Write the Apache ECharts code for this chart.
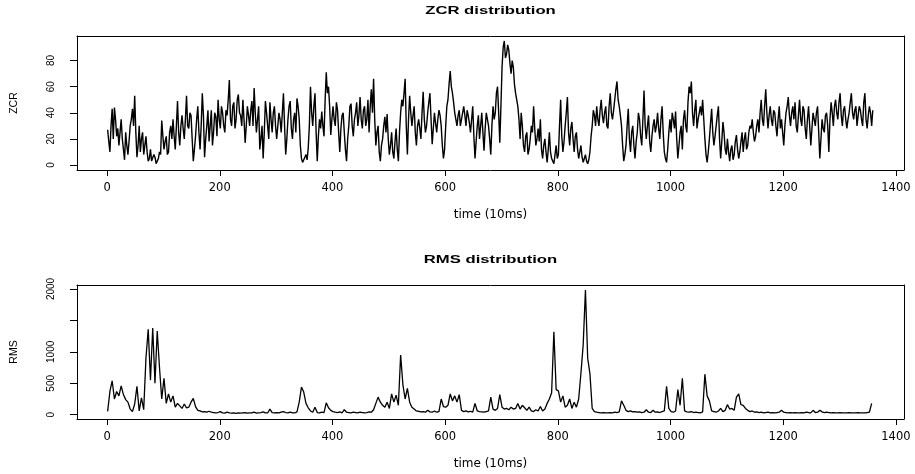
<!DOCTYPE html>
<html>
<head>
<meta charset="utf-8">
<script src="https://cdn.jsdelivr.net/npm/echarts@6/dist/echarts.min.js"></script>
<style>
  html, body { margin: 0; padding: 0; background: #fff; }
  #chart { width: 915px; height: 474px; }
</style>
</head>
<body>
<div id="chart"></div>
<script>
// Frame index of the first sample and spacing between samples (units of 10 ms)
const zcrStart = 1;
const zcrStep = 2;
const rmsStart = 1;
const rmsStep = 4;

// Zero-crossing rate per sampled frame
const zcrValues = [
  27,18,10,30,43,20,44,35,22,28,15,25,35,20,12,4,25,15,8,18,30,35,43,30,53,25,6,15,30,10,20,25,8,15,22,10,3,5,12,3,2,8,6,1,3,5,10,8,34,22,
  12,18,22,8,10,25,30,20,35,22,12,30,49,25,15,30,38,28,20,35,53,30,28,40,38,20,3,12,22,35,45,25,12,30,55,38,6,20,30,42,18,30,42,15,25,40,37,22,50,35,
  28,45,40,30,25,42,38,50,65,35,30,45,48,28,35,50,54,40,38,30,50,35,17,30,45,38,30,42,49,30,59,40,25,35,45,12,20,30,5,25,49,40,30,20,48,35,25,40,45,30,
  20,30,40,35,25,40,55,30,8,20,35,45,49,28,20,35,40,25,51,45,35,15,5,2,3,6,8,4,13,30,60,40,30,45,55,25,3,22,35,28,41,30,22,50,71,55,60,45,23,35,
  45,35,30,48,42,25,10,28,38,40,25,12,3,20,30,45,47,30,22,35,40,48,30,38,52,35,28,42,45,30,35,50,25,45,58,40,66,35,15,25,30,10,3,15,20,30,37,25,39,20,
  8,15,25,10,5,18,28,12,3,25,40,50,45,55,66,30,8,35,53,40,30,38,45,25,15,30,35,28,20,40,56,35,25,30,40,48,55,35,16,28,40,32,25,35,42,38,30,15,5,12,
  30,45,50,62,72,60,55,48,40,35,30,38,42,30,35,40,45,38,30,42,38,32,25,35,45,22,5,18,30,38,20,30,40,25,11,28,40,35,30,20,8,30,45,35,40,55,60,40,17,45,
  75,90,95,82,85,92,88,78,70,80,75,62,55,50,45,35,20,40,30,15,10,22,25,8,12,20,30,25,45,28,15,20,28,18,35,12,5,15,20,10,2,12,25,10,5,3,1,8,15,5,
  8,30,50,22,10,18,30,40,52,25,15,28,33,20,10,22,25,12,5,10,15,6,2,5,8,3,1,4,10,22,30,42,38,30,45,35,30,42,50,38,32,40,45,30,28,45,55,40,35,42,
  50,58,64,50,45,38,30,15,3,8,15,30,43,20,10,25,30,15,5,18,25,40,35,22,15,35,57,30,20,30,38,18,10,22,30,35,25,30,40,28,20,35,45,25,10,5,2,12,25,35,
  25,40,35,28,41,20,5,15,25,30,12,35,42,30,25,48,60,55,64,40,30,42,50,28,35,40,45,38,50,35,20,8,2,10,20,32,43,25,15,22,30,38,45,20,5,18,33,25,12,8,
  20,10,3,12,15,4,8,18,23,12,5,10,18,25,10,20,25,12,15,25,30,28,35,25,18,22,30,35,25,40,50,35,30,45,58,40,28,38,45,35,30,42,40,30,22,35,45,28,35,25,
  15,30,40,45,52,38,30,40,45,35,48,30,25,38,50,35,30,45,42,28,20,35,45,30,15,28,40,35,30,40,45,25,5,20,35,28,25,38,40,30,10,35,48,40,30,45,50,40,35,48,
  55,38,30,42,45,35,28,35,40,48,55,40,35,42,45,30,38,45,42,35,30,48,55,35,28,38,45,40,30,42
];

// Root-mean-square energy per sampled frame
const rmsValues = [
  53,370,540,250,370,300,460,320,240,200,90,50,170,450,60,270,80,900,1360,550,1380,500,1330,750,250,
  580,180,330,200,300,120,180,140,100,170,110,120,200,260,130,70,60,45,50,40,55,40,35,30,35,
  50,30,25,40,28,25,30,22,28,25,30,35,25,30,28,40,25,30,35,45,30,28,90,35,30,
  35,28,40,50,35,30,40,30,28,45,200,440,360,180,110,60,40,120,35,30,40,35,190,110,70,
  50,40,35,45,30,80,40,35,30,40,35,30,40,35,30,35,45,40,80,180,280,200,150,120,200,
  100,330,200,310,150,950,480,250,420,200,120,90,60,55,45,50,40,70,45,40,60,40,50,250,130,
  120,150,330,220,300,200,320,70,50,60,45,55,40,180,60,50,45,40,50,60,280,90,70,100,320,
  120,90,100,80,120,90,100,180,90,150,110,70,120,60,50,80,60,130,60,90,180,250,350,1320,400,
  380,200,300,120,150,250,100,200,120,250,660,1110,1984,900,650,100,50,40,35,30,35,28,30,35,30,
  40,35,45,220,150,70,50,60,45,50,40,45,35,40,80,40,35,70,40,45,35,50,60,450,100,
  50,40,60,400,150,580,60,45,40,50,35,40,35,30,45,645,300,220,60,50,40,60,100,50,70,
  160,90,100,70,280,330,160,150,100,70,50,60,40,45,35,40,30,35,40,30,35,30,35,40,70,
  40,35,30,35,30,35,30,28,35,30,40,35,30,70,35,40,70,45,35,40,35,30,35,28,30,
  35,30,28,30,35,30,28,30,35,30,28,30,35,40,180
];

// Axis ticks and labels
const timeTicks = [0, 200, 400, 600, 800, 1000, 1200, 1400];
const zcrTicks = [0, 20, 40, 60, 80];
const rmsTicks = [0, 500, 1000, 1500, 2000];
const rmsTickLabels = [0, 500, 1000, 2000];

const titles = ['ZCR distribution', 'RMS distribution'];
const yNames = ['ZCR', 'RMS'];
const xName = 'time (10ms)';

function toPairs(values, start, step) {
  return values.map((v, i) => [start + i * step, v]);
}

const chart = echarts.init(document.getElementById('chart'), null, { renderer: 'canvas' });

const ink = '#000';
const frameLine = { show: true, onZero: false, lineStyle: { color: ink, width: 1 } };

function timeAxis(gridIndex) {
  return {
    type: 'value',
    gridIndex,
    position: 'bottom',
    min: -53.4,
    max: 1414.4,
    axisLine: frameLine,
    splitLine: { show: false },
    axisTick: { show: true, length: 6, lineStyle: { color: ink, width: 1 }, customValues: timeTicks },
    axisLabel: { color: ink, fontFamily: 'DejaVu Sans', fontSize: 11.5, margin: 12, customValues: timeTicks, formatter: v => String(v) },
    name: xName,
    nameLocation: 'middle',
    nameGap: 39,
    nameTextStyle: { color: ink, fontFamily: 'DejaVu Sans', fontSize: 12 }
  };
}

function valueAxis(gridIndex, min, max, ticks, labels, name) {
  return {
    type: 'value',
    gridIndex,
    position: 'left',
    min, max,
    axisLine: frameLine,
    splitLine: { show: false },
    axisTick: { show: true, length: 7, lineStyle: { color: ink, width: 1 }, customValues: ticks },
    axisLabel: { color: ink, fontFamily: 'Liberation Sans', fontSize: 10, rotate: 90, margin: 21, customValues: labels, formatter: v => String(v) },
    name,
    nameLocation: 'middle',
    nameRotate: 90,
    nameGap: 57,
    nameTextStyle: { color: ink, fontFamily: 'Liberation Sans', fontSize: 10.5 }
  };
}

// Top and right edges of each plot frame
function frameEdge(kind, gridIndex) {
  return {
    type: 'value',
    gridIndex,
    position: kind,
    min: 0, max: 1,
    axisLine: frameLine,
    axisTick: { show: false },
    axisLabel: { show: false },
    splitLine: { show: false }
  };
}

function titleText(text, y) {
  return {
    type: 'text',
    x: 490.5,
    y,
    scaleX: 1.45,
    style: {
      text,
      fill: ink,
      fontFamily: 'Liberation Sans',
      fontWeight: 'bold',
      fontSize: 11.5,
      textAlign: 'center',
      textVerticalAlign: 'middle',
      align: 'center',
      verticalAlign: 'middle'
    }
  };
}

chart.setOption({
  animation: false,
  backgroundColor: '#fff',
  grid: [
    { left: 77, right: 11, top: 36, height: 134, containLabel: false, outerBoundsMode: 'none' },
    { left: 77, right: 11, top: 285, height: 134, containLabel: false, outerBoundsMode: 'none' }
  ],
  xAxis: [
    timeAxis(0),
    timeAxis(1),
    frameEdge('top', 0),
    frameEdge('top', 1)
  ],
  yAxis: [
    valueAxis(0, -3.8, 98.8, zcrTicks, zcrTicks, yNames[0]),
    valueAxis(1, -68, 2063, rmsTicks, rmsTickLabels, yNames[1]),
    frameEdge('right', 0),
    frameEdge('right', 1)
  ],
  graphic: [
    titleText(titles[0], 11),
    titleText(titles[1], 260)
  ],
  series: [
    {
      type: 'line',
      xAxisIndex: 0,
      yAxisIndex: 0,
      data: toPairs(zcrValues, zcrStart, zcrStep),
      showSymbol: false,
      symbol: 'none',
      lineStyle: { color: ink, width: 1.4 }
    },
    {
      type: 'line',
      xAxisIndex: 1,
      yAxisIndex: 1,
      data: toPairs(rmsValues, rmsStart, rmsStep),
      showSymbol: false,
      symbol: 'none',
      lineStyle: { color: ink, width: 1.3 }
    }
  ]
});
</script>
</body>
</html>
